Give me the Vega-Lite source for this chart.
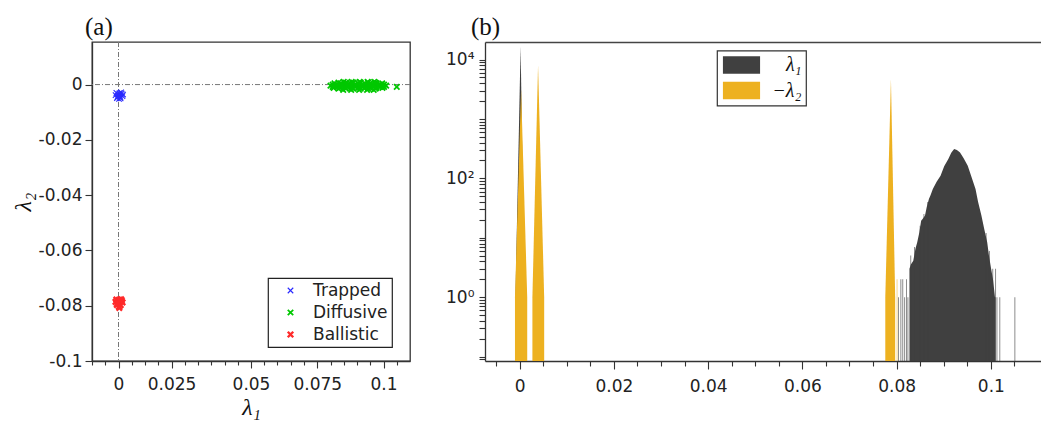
{
  "$schema": "https://vega.github.io/schema/vega-lite/v6.json",
  "background": "white",
  "padding": {"left": 10, "top": 13, "right": 0, "bottom": 0},
  "spacing": 33,
  "resolve": {"scale": {"color": "independent", "strokeWidth": "independent"}, "legend": {"color": "independent", "strokeWidth": "independent"}},
  "datasets": {
    "scatter": [
      {"class": "Trapped", "l1": 0.0000, "l2": -0.0035}, {"class": "Trapped", "l1": 0.0005, "l2": -0.0040},
      {"class": "Trapped", "l1": -0.0008, "l2": -0.0030}, {"class": "Trapped", "l1": 0.0012, "l2": -0.0033},
      {"class": "Trapped", "l1": -0.0004, "l2": -0.0045}, {"class": "Trapped", "l1": 0.0008, "l2": -0.0050},
      {"class": "Trapped", "l1": 0.0015, "l2": -0.0042}, {"class": "Trapped", "l1": -0.0011, "l2": -0.0038},
      {"class": "Trapped", "l1": 0.0002, "l2": -0.0052}, {"class": "Trapped", "l1": 0.0010, "l2": -0.0028},
      {"class": "Trapped", "l1": -0.0006, "l2": -0.0049}, {"class": "Trapped", "l1": 0.0004, "l2": -0.0031},
      {"class": "Trapped", "l1": 0.0017, "l2": -0.0036}, {"class": "Trapped", "l1": -0.0002, "l2": -0.0041},
      {"class": "Trapped", "l1": 0.0007, "l2": -0.0045},
      {"class": "Diffusive", "l1": 0.0800, "l2": -0.0004}, {"class": "Diffusive", "l1": 0.0815, "l2": -0.0004},
      {"class": "Diffusive", "l1": 0.0830, "l2": -0.0004}, {"class": "Diffusive", "l1": 0.0845, "l2": -0.0004},
      {"class": "Diffusive", "l1": 0.0860, "l2": -0.0004}, {"class": "Diffusive", "l1": 0.0875, "l2": -0.0004},
      {"class": "Diffusive", "l1": 0.0890, "l2": -0.0004}, {"class": "Diffusive", "l1": 0.0905, "l2": -0.0004},
      {"class": "Diffusive", "l1": 0.0920, "l2": -0.0004}, {"class": "Diffusive", "l1": 0.0935, "l2": -0.0004},
      {"class": "Diffusive", "l1": 0.0950, "l2": -0.0004}, {"class": "Diffusive", "l1": 0.0965, "l2": -0.0004},
      {"class": "Diffusive", "l1": 0.0980, "l2": -0.0004}, {"class": "Diffusive", "l1": 0.0995, "l2": -0.0004},
      {"class": "Diffusive", "l1": 0.1010, "l2": -0.0004},
      {"class": "Diffusive", "l1": 0.0808, "l2": 0.0000}, {"class": "Diffusive", "l1": 0.0825, "l2": 0.0000}, {"class": "Diffusive", "l1": 0.0840, "l2": 0.0000},
      {"class": "Diffusive", "l1": 0.0852, "l2": 0.0000}, {"class": "Diffusive", "l1": 0.0866, "l2": 0.0000},
      {"class": "Diffusive", "l1": 0.0879, "l2": 0.0000}, {"class": "Diffusive", "l1": 0.0893, "l2": 0.0000}, {"class": "Diffusive", "l1": 0.0906, "l2": 0.0000},
      {"class": "Diffusive", "l1": 0.0920, "l2": 0.0000}, {"class": "Diffusive", "l1": 0.0933, "l2": 0.0000}, {"class": "Diffusive", "l1": 0.0947, "l2": 0.0000}, {"class": "Diffusive", "l1": 0.0960, "l2": 0.0000},
      {"class": "Diffusive", "l1": 0.0974, "l2": 0.0000}, {"class": "Diffusive", "l1": 0.0987, "l2": 0.0000}, {"class": "Diffusive", "l1": 0.1002, "l2": 0.0000},
      {"class": "Diffusive", "l1": 0.0808, "l2": -0.0008}, {"class": "Diffusive", "l1": 0.0825, "l2": -0.0008}, {"class": "Diffusive", "l1": 0.0840, "l2": -0.0008},
      {"class": "Diffusive", "l1": 0.0852, "l2": -0.0008}, {"class": "Diffusive", "l1": 0.0866, "l2": -0.0008},
      {"class": "Diffusive", "l1": 0.0879, "l2": -0.0008}, {"class": "Diffusive", "l1": 0.0893, "l2": -0.0008}, {"class": "Diffusive", "l1": 0.0906, "l2": -0.0008},
      {"class": "Diffusive", "l1": 0.0920, "l2": -0.0008}, {"class": "Diffusive", "l1": 0.0933, "l2": -0.0008}, {"class": "Diffusive", "l1": 0.0947, "l2": -0.0008}, {"class": "Diffusive", "l1": 0.0960, "l2": -0.0008},
      {"class": "Diffusive", "l1": 0.0974, "l2": -0.0008}, {"class": "Diffusive", "l1": 0.0987, "l2": -0.0008}, {"class": "Diffusive", "l1": 0.1002, "l2": -0.0008},
      {"class": "Diffusive", "l1": 0.0815, "l2": 0.0004}, {"class": "Diffusive", "l1": 0.0838, "l2": 0.0004},
      {"class": "Diffusive", "l1": 0.0860, "l2": 0.0004}, {"class": "Diffusive", "l1": 0.0883, "l2": 0.0004},
      {"class": "Diffusive", "l1": 0.0905, "l2": 0.0004}, {"class": "Diffusive", "l1": 0.0928, "l2": 0.0004},
      {"class": "Diffusive", "l1": 0.0950, "l2": 0.0004}, {"class": "Diffusive", "l1": 0.0973, "l2": 0.0004},
      {"class": "Diffusive", "l1": 0.0995, "l2": 0.0004},
      {"class": "Diffusive", "l1": 0.0812, "l2": -0.0012}, {"class": "Diffusive", "l1": 0.0835, "l2": -0.0012},
      {"class": "Diffusive", "l1": 0.0858, "l2": -0.0012}, {"class": "Diffusive", "l1": 0.0881, "l2": -0.0012},
      {"class": "Diffusive", "l1": 0.0904, "l2": -0.0012}, {"class": "Diffusive", "l1": 0.0927, "l2": -0.0012},
      {"class": "Diffusive", "l1": 0.0950, "l2": -0.0012}, {"class": "Diffusive", "l1": 0.0973, "l2": -0.0012},
      {"class": "Diffusive", "l1": 0.0996, "l2": -0.0012},
      {"class": "Diffusive", "l1": 0.0830, "l2": 0.0007}, {"class": "Diffusive", "l1": 0.0858, "l2": 0.0007}, {"class": "Diffusive", "l1": 0.0886, "l2": 0.0007},
      {"class": "Diffusive", "l1": 0.0914, "l2": 0.0007}, {"class": "Diffusive", "l1": 0.0942, "l2": 0.0007}, {"class": "Diffusive", "l1": 0.0970, "l2": 0.0007},
      {"class": "Diffusive", "l1": 0.0830, "l2": -0.0015}, {"class": "Diffusive", "l1": 0.0858, "l2": -0.0015}, {"class": "Diffusive", "l1": 0.0886, "l2": -0.0015},
      {"class": "Diffusive", "l1": 0.0914, "l2": -0.0015}, {"class": "Diffusive", "l1": 0.0942, "l2": -0.0015}, {"class": "Diffusive", "l1": 0.0970, "l2": -0.0015},
      {"class": "Diffusive", "l1": 0.0850, "l2": 0.0010}, {"class": "Diffusive", "l1": 0.0880, "l2": 0.0010},
      {"class": "Diffusive", "l1": 0.0910, "l2": 0.0010}, {"class": "Diffusive", "l1": 0.0940, "l2": 0.0010},
      {"class": "Diffusive", "l1": 0.0965, "l2": 0.0010},
      {"class": "Diffusive", "l1": 0.0848, "l2": -0.0019}, {"class": "Diffusive", "l1": 0.0878, "l2": -0.0019},
      {"class": "Diffusive", "l1": 0.0908, "l2": -0.0019}, {"class": "Diffusive", "l1": 0.0938, "l2": -0.0019},
      {"class": "Diffusive", "l1": 0.0963, "l2": -0.0019},
      {"class": "Diffusive", "l1": 0.1050, "l2": -0.0008},
      {"class": "Ballistic", "l1": 0.0000, "l2": -0.0780}, {"class": "Ballistic", "l1": 0.0005, "l2": -0.0785},
      {"class": "Ballistic", "l1": -0.0008, "l2": -0.0778}, {"class": "Ballistic", "l1": 0.0012, "l2": -0.0782},
      {"class": "Ballistic", "l1": -0.0004, "l2": -0.0792}, {"class": "Ballistic", "l1": 0.0008, "l2": -0.0798},
      {"class": "Ballistic", "l1": 0.0015, "l2": -0.0788}, {"class": "Ballistic", "l1": -0.0011, "l2": -0.0786},
      {"class": "Ballistic", "l1": 0.0002, "l2": -0.0803}, {"class": "Ballistic", "l1": 0.0010, "l2": -0.0777},
      {"class": "Ballistic", "l1": -0.0006, "l2": -0.0797}, {"class": "Ballistic", "l1": 0.0004, "l2": -0.0779},
      {"class": "Ballistic", "l1": 0.0003, "l2": -0.0808}, {"class": "Ballistic", "l1": -0.0002, "l2": -0.0790}
    ],
    "hist": [
      {"series": "λ₁", "peak": "p0", "x": -0.0009, "count": 1},
      {"series": "λ₁", "peak": "p0", "x": 0.0002, "count": 16800},
      {"series": "λ₁", "peak": "p0", "x": 0.0010, "count": 1},
      {"series": "λ₁", "peak": "bell", "x": 0.08273, "count": 3.0},
      {"series": "λ₁", "peak": "bell", "x": 0.08300, "count": 3.5},
      {"series": "λ₁", "peak": "bell", "x": 0.08354, "count": 4.1},
      {"series": "λ₁", "peak": "bell", "x": 0.08400, "count": 6.5},
      {"series": "λ₁", "peak": "bell", "x": 0.08438, "count": 8.4},
      {"series": "λ₁", "peak": "bell", "x": 0.08480, "count": 12},
      {"series": "λ₁", "peak": "bell", "x": 0.08521, "count": 19.4},
      {"series": "λ₁", "peak": "bell", "x": 0.08560, "count": 21},
      {"series": "λ₁", "peak": "bell", "x": 0.08603, "count": 23.6},
      {"series": "λ₁", "peak": "bell", "x": 0.08640, "count": 33},
      {"series": "λ₁", "peak": "bell", "x": 0.08686, "count": 44.9},
      {"series": "λ₁", "peak": "bell", "x": 0.08720, "count": 52},
      {"series": "λ₁", "peak": "bell", "x": 0.08769, "count": 66},
      {"series": "λ₁", "peak": "bell", "x": 0.08850, "count": 88},
      {"series": "λ₁", "peak": "bell", "x": 0.08933, "count": 111},
      {"series": "λ₁", "peak": "bell", "x": 0.09010, "count": 160},
      {"series": "λ₁", "peak": "bell", "x": 0.09098, "count": 211},
      {"series": "λ₁", "peak": "bell", "x": 0.09160, "count": 270},
      {"series": "λ₁", "peak": "bell", "x": 0.09221, "count": 311},
      {"series": "λ₁", "peak": "bell", "x": 0.09280, "count": 300},
      {"series": "λ₁", "peak": "bell", "x": 0.09346, "count": 274},
      {"series": "λ₁", "peak": "bell", "x": 0.09420, "count": 220},
      {"series": "λ₁", "peak": "bell", "x": 0.09510, "count": 163},
      {"series": "λ₁", "peak": "bell", "x": 0.09590, "count": 105},
      {"series": "λ₁", "peak": "bell", "x": 0.09675, "count": 66},
      {"series": "λ₁", "peak": "bell", "x": 0.09730, "count": 40},
      {"series": "λ₁", "peak": "bell", "x": 0.09800, "count": 23.6},
      {"series": "λ₁", "peak": "bell", "x": 0.09860, "count": 14},
      {"series": "λ₁", "peak": "bell", "x": 0.09923, "count": 8.4},
      {"series": "λ₁", "peak": "bell", "x": 0.09960, "count": 5},
      {"series": "λ₁", "peak": "bell", "x": 0.10006, "count": 3.0},
      {"series": "λ₁", "peak": "bell", "x": 0.10046, "count": 2.0},
      {"series": "λ₁", "peak": "bell", "x": 0.10088, "count": 1.0},
      {"series": "λ₁", "peak": "bell", "x": 0.10100, "count": 1.0},
      {"series": "−λ₂", "peak": "q0", "x": -0.0010, "count": 1},
      {"series": "−λ₂", "peak": "q0", "x": 0.0003, "count": 3100},
      {"series": "−λ₂", "peak": "q0", "x": 0.0016, "count": 1},
      {"series": "−λ₂", "peak": "q1", "x": 0.0027, "count": 1},
      {"series": "−λ₂", "peak": "q1", "x": 0.0039, "count": 8050},
      {"series": "−λ₂", "peak": "q1", "x": 0.0052, "count": 1},
      {"series": "−λ₂", "peak": "q2", "x": 0.0776, "count": 1},
      {"series": "−λ₂", "peak": "q2", "x": 0.0788, "count": 4700},
      {"series": "−λ₂", "peak": "q2", "x": 0.0797, "count": 1}
    ],
    "thin": [
      {"series": "λ₁", "x": 0.0804, "count": 1}, {"series": "λ₁", "x": 0.0809, "count": 2},
      {"series": "λ₁", "x": 0.0813, "count": 2}, {"series": "λ₁", "x": 0.0817, "count": 1},
      {"series": "λ₁", "x": 0.0821, "count": 2}, {"series": "λ₁", "x": 0.0824, "count": 1},
      {"series": "λ₁", "x": 0.0830, "count": 5}, {"series": "λ₁", "x": 0.0838, "count": 7},
      {"series": "λ₁", "x": 0.0850, "count": 16}, {"series": "λ₁", "x": 0.0858, "count": 25},
      {"series": "λ₁", "x": 0.0866, "count": 40}, {"series": "λ₁", "x": 0.0990, "count": 12},
      {"series": "λ₁", "x": 0.0997, "count": 6}, {"series": "λ₁", "x": 0.1004, "count": 3},
      {"series": "λ₁", "x": 0.1010, "count": 3}, {"series": "λ₁", "x": 0.1013, "count": 1},
      {"series": "λ₁", "x": 0.1019, "count": 1}, {"series": "λ₁", "x": 0.1051, "count": 1},
      {"series": "−λ₂", "x": 0.0801, "count": 2}
    ]
  },
  "hconcat": [
    {
      "width": 318,
      "height": 319,
      "title": {"text": "(a)", "anchor": "start", "frame": "group", "dx": -7, "font": "Liberation Serif", "fontSize": 25, "fontWeight": "normal", "baseline": "alphabetic", "offset": -18, "color": "#111"},
      "view": {"stroke": "#333", "strokeWidth": 1.3},
      "resolve": {"axis": {"x": "independent"}},
      "layer": [
        {
          "data": {"values": [{}]},
          "mark": {"type": "rule", "color": "#777", "strokeDash": [5, 2, 1, 2], "strokeWidth": 1},
          "encoding": {"x": {"datum": 0, "type": "quantitative", "axis": null}}
        },
        {
          "data": {"values": [{}]},
          "mark": {"type": "rule", "color": "#777", "strokeDash": [5, 2, 1, 2], "strokeWidth": 1},
          "encoding": {"y": {"datum": 0, "type": "quantitative"}}
        },
        {
          "data": {"name": "scatter"},
          "mark": {"type": "point", "shape": "M-1,-1L1,1M-1,1L1,-1", "filled": false, "size": 30, "opacity": 1},
          "encoding": {
            "x": {
              "field": "l1", "type": "quantitative",
              "scale": {"domain": [-0.01, 0.11], "nice": false, "zero": false},
              "axis": {
                "orient": "bottom",
                "title": "λ₁", "titlePadding": 3,
                "values": [0, 0.02, 0.05, 0.075, 0.1],
                "labelExpr": "datum.value == 0 ? '0' : datum.value == 0.02 ? '0.025' : datum.value == 0.05 ? '0.05' : datum.value == 0.075 ? '0.075' : datum.value == 0.1 ? '0.1' : ''",
                "labelOverlap": false,
                "tickSize": 7,
                "labelPadding": 8
              }
            },
            "y": {
              "field": "l2", "type": "quantitative",
              "scale": {"domain": [-0.1, 0.0154], "nice": false, "zero": false},
              "axis": {
                "title": "λ₂", "titlePadding": 3,
                "values": [-0.1, -0.095, -0.09, -0.085, -0.08, -0.075, -0.07, -0.065, -0.06, -0.055, -0.05, -0.045, -0.04, -0.035, -0.03, -0.025, -0.02, -0.015, -0.01, -0.005, 0, 0.005, 0.01, 0.015],
                "labelExpr": "datum.value == 0 ? '0' : datum.value == -0.02 ? '-0.02' : datum.value == -0.04 ? '-0.04' : datum.value == -0.06 ? '-0.06' : datum.value == -0.08 ? '-0.08' : datum.value == -0.1 ? '-0.1' : ''",
                "labelOverlap": false,
                "tickSize": 7,
                "labelPadding": 3,
                "encode": {"ticks": {"update": {"x2": {"signal": "indexof([0, -0.02, -0.04, -0.06, -0.08, -0.1], datum.value) >= 0 ? -7 : -4"}}}}
              }
            },
            "color": {
              "field": "class", "type": "nominal",
              "scale": {"domain": ["Trapped", "Diffusive", "Ballistic"], "range": ["#2a2aff", "#00c800", "#ff2a2a"]},
              "legend": {
                "title": null, "orient": "none", "legendX": 176, "legendY": 236,
                "symbolType": "M-1,-1L1,1M-1,1L1,-1", "symbolSize": 30,
                "labelFont": "DejaVu Sans", "labelFontSize": 17, "labelColor": "#222",
                "padding": 4, "rowPadding": 4, "symbolOffset": 10, "labelOffset": 14,
                "strokeColor": "#222", "fillColor": "white"
              }
            },
            "strokeWidth": {
              "field": "class", "type": "nominal",
              "scale": {"domain": ["Trapped", "Diffusive", "Ballistic"], "range": [1.1, 2.4, 1.1]}
            }
          }
        },
        {
          "data": {"values": [{}]},
          "mark": {"type": "rule", "opacity": 0},
          "encoding": {
            "x": {"datum": 0, "type": "quantitative", "axis": {"orient": "bottom", "values": [-0.01, -0.005, 0.005, 0.01, 0.015, 0.025, 0.03, 0.035, 0.04, 0.045, 0.055, 0.06, 0.065, 0.07, 0.08, 0.085, 0.09, 0.095, 0.105], "labels": false, "domain": false, "title": null, "tickSize": 4}}
          }
        }
      ]
    },
    {
      "width": 557,
      "height": 319,
      "title": {"text": "(b)", "anchor": "start", "frame": "group", "dx": -14, "font": "Liberation Serif", "fontSize": 25, "fontWeight": "normal", "baseline": "alphabetic", "offset": -18, "color": "#111"},
      "view": {"stroke": null},
      "resolve": {"axis": {"x": "independent"}},
      "layer": [
        {
          "layer": [
            {
              "data": {"name": "hist"},
              "transform": [{"filter": {"field": "series", "equal": "λ₁"}}],
              "mark": {"type": "area", "opacity": 1, "interpolate": "linear"},
              "encoding": {
                "x": {
                  "field": "x", "type": "quantitative",
                  "scale": {"domain": [-0.0063, 0.1098], "nice": false, "zero": false},
                  "axis": {
                    "orient": "bottom",
                    "title": null,
                    "values": [0, 0.02, 0.04, 0.06, 0.08, 0.1],
                    "format": "~g",
                    "labelOverlap": false,
                    "tickSize": 8,
                    "labelPadding": 9
                  }
                },
                "y": {
                  "field": "count", "type": "quantitative", "stack": null,
                  "scale": {"type": "log", "domain": [0.084, 19800], "nice": false, "clamp": true},
                  "axis": {
                    "title": null,
                    "values": [0.09, 0.1, 0.2, 0.3, 0.4, 0.5, 0.6, 0.7, 0.8, 0.9, 1, 2, 3, 4, 5, 6, 7, 8, 9, 10, 20, 30, 40, 50, 60, 70, 80, 90, 100, 200, 300, 400, 500, 600, 700, 800, 900, 1000, 2000, 3000, 4000, 5000, 6000, 7000, 8000, 9000, 10000],
                    "labelExpr": "datum.value == 1 ? '10⁰' : datum.value == 100 ? '10²' : datum.value == 10000 ? '10⁴' : ''",
                    "labelOverlap": false,
                    "tickSize": 6,
                    "labelPadding": 5,
                    "encode": {"ticks": {"update": {"x2": {"signal": "indexof([0.1, 1, 10, 100, 1000, 10000], datum.value) >= 0 ? -6 : -3.5"}}}}
                  }
                },
                "color": {
                  "field": "series", "type": "nominal",
                  "scale": {"domain": ["λ₁", "−λ₂"], "range": ["#404040", "#EDB120"]},
                  "legend": {
                    "title": null, "orient": "none", "legendX": 232, "legendY": 8.5,
                    "symbolType": "M-2.1,-1H2.1V1H-2.1Z", "symbolSize": 313, "symbolStrokeWidth": 0, "symbolOpacity": 1, "symbolOffset": 10,
                    "labelAlign": "right", "labelOffset": 50,
                    "labelFont": "Liberation Serif", "labelFontStyle": "italic", "labelFontSize": 20, "labelColor": "#111",
                    "padding": 4.5, "rowPadding": 5.5, "strokeColor": "#333", "fillColor": "white"
                  }
                },
                "detail": {"field": "peak", "type": "nominal"}
              }
            },
            {
              "data": {"name": "thin"},
              "transform": [{"filter": {"field": "series", "equal": "λ₁"}}],
              "mark": {"type": "bar", "size": 1, "opacity": 0.6, "color": "#404040"},
              "encoding": {
                "x": {"field": "x", "type": "quantitative"},
                "y": {"field": "count", "type": "quantitative", "stack": null}
              }
            },
            {
              "data": {"name": "hist"},
              "transform": [{"filter": {"field": "series", "equal": "−λ₂"}}],
              "mark": {"type": "area", "opacity": 1, "interpolate": "linear"},
              "encoding": {
                "x": {"field": "x", "type": "quantitative"},
                "y": {"field": "count", "type": "quantitative", "stack": null},
                "color": {"field": "series", "type": "nominal"},
                "detail": {"field": "peak", "type": "nominal"}
              }
            },
            {
              "data": {"name": "thin"},
              "transform": [{"filter": {"field": "series", "equal": "−λ₂"}}],
              "mark": {"type": "bar", "size": 1, "opacity": 0.5, "color": "#EDB120"},
              "encoding": {
                "x": {"field": "x", "type": "quantitative"},
                "y": {"field": "count", "type": "quantitative", "stack": null}
              }
            }
          ]
        },
        {
          "data": {"values": [{}]},
          "mark": {"type": "rule", "opacity": 0},
          "encoding": {
            "x": {"datum": 0, "type": "quantitative", "axis": {"orient": "top", "labels": false, "ticks": false, "title": null, "domainColor": "#444", "domainWidth": 1.5}}
          }
        },
        {
          "data": {"values": [{}]},
          "mark": {"type": "rule", "opacity": 0},
          "encoding": {
            "x": {"datum": 0, "type": "quantitative", "axis": {"orient": "bottom", "values": [-0.005, 0.005, 0.01, 0.015, 0.025, 0.03, 0.035, 0.045, 0.05, 0.055, 0.065, 0.07, 0.075, 0.085, 0.09, 0.095, 0.105], "labels": false, "domain": false, "title": null, "tickSize": 5}}
          }
        }
      ]
    }
  ],
  "config": {
    "font": "DejaVu Sans",
    "axis": {
      "grid": false, "domainColor": "#333", "domainWidth": 1.3, "tickColor": "#333", "tickWidth": 1.1,
      "labelColor": "#222", "labelFont": "DejaVu Sans", "labelFontSize": 17,
      "titleFont": "Liberation Serif", "titleFontStyle": "italic", "titleFontWeight": "normal", "titleFontSize": 24, "titleColor": "#111",
      "labelFlush": false, "labelOverlap": false, "labelBound": false
    },
    "legend": {"cornerRadius": 0, "strokeWidth": 1.2}
  }
}
